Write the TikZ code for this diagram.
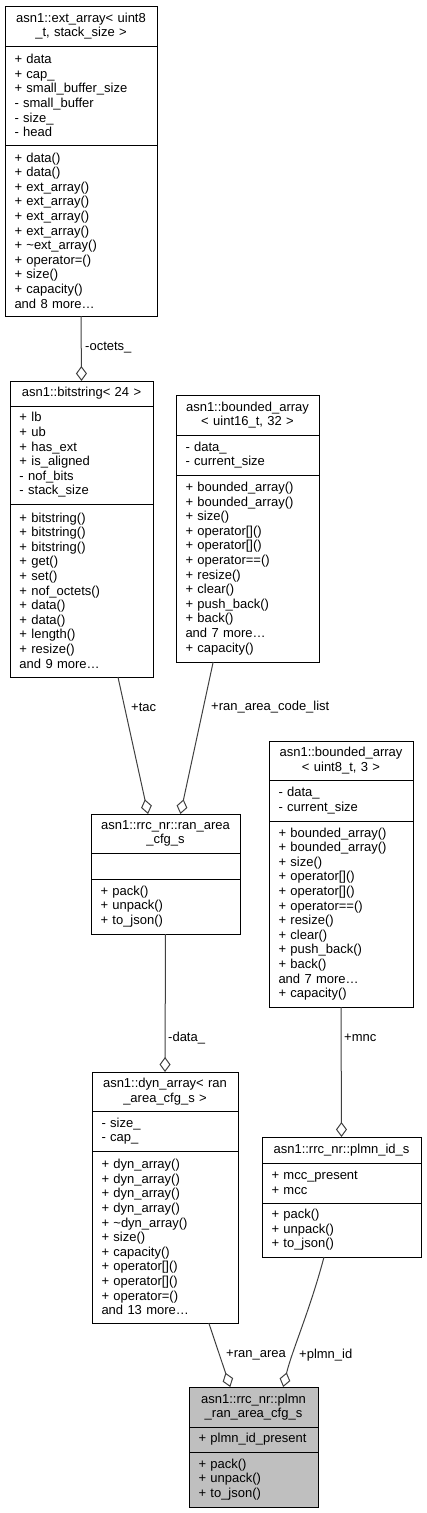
\documentclass[tikz,border=0pt]{standalone}
\usepackage{fontspec}
\setmainfont{Liberation Sans}
\usetikzlibrary{calc,arrows.meta}

\definecolor{edgegrey}{HTML}{404040}
\definecolor{curgrey}{HTML}{BFBFBF}

\tikzset{
  cls/.style={draw=black, line width=1pt, fill=white, outer sep=0pt, inner xsep=9.5pt, inner ysep=2pt,
    anchor=north west, font=\fontsize{13}{14.6}\selectfont},
  clshead/.style={cls, align=center},
  clsbody/.style={cls, align=left},
  aggr/.style={draw=edgegrey, line width=1pt, -{Diamond[open, length=15pt, width=11pt]}},
  lbl/.style={anchor=west, inner sep=0pt, font=\fontsize{13}{14.6}\selectfont},
}

\begin{document}
\begin{tikzpicture}[x=1pt,y=-1pt]

    \useasboundingbox (0,0) rectangle (426,1513);

    % ext_array< uint8_t, stack_size >
    \node[clshead, text width=133pt, minimum height=40pt] (extT) at (5,6) {asn1::ext\_array< uint8\\ \_t, stack\_size >};
    \node[clsbody, text width=133pt, minimum height=99pt] (extA) at (extT.south west)
        {+ data\\+ cap\_\\+ small\_buffer\_size\\- small\_buffer\\- size\_\\- head};
    \node[clsbody, text width=133pt, minimum height=171pt] (extM) at (extA.south west)
        {+ data()\\+ data()\\+ ext\_array()\\+ ext\_array()\\+ ext\_array()\\+ ext\_array()\\+ \textasciitilde{}ext\_array()\\+ operator=()\\+ size()\\+ capacity()\\and 8 more\ldots};

    % bitstring< 24 >
    \node[clshead, text width=124pt, minimum height=25pt] (bitT) at (10,381) {asn1::bitstring< 24 >};
    \node[clsbody, text width=124pt, minimum height=98pt] (bitA) at (bitT.south west)
        {+ lb\\+ ub\\+ has\_ext\\+ is\_aligned\\- nof\_bits\\- stack\_size};
    \node[clsbody, text width=124pt, minimum height=173pt] (bitM) at (bitA.south west)
        {+ bitstring()\\+ bitstring()\\+ bitstring()\\+ get()\\+ set()\\+ nof\_octets()\\+ data()\\+ data()\\+ length()\\+ resize()\\and 9 more\ldots};

    % bounded_array< uint16_t, 32 >
    \node[clshead, text width=124pt, minimum height=40pt] (b16T) at (176,395) {asn1::bounded\_array\\< uint16\_t, 32 >};
    \node[clsbody, text width=124pt, minimum height=40pt] (b16A) at (b16T.south west)
        {- data\_\\- current\_size};
    \node[clsbody, text width=124pt, minimum height=187pt] (b16M) at (b16A.south west)
        {+ bounded\_array()\\+ bounded\_array()\\+ size()\\+ operator[]()\\+ operator[]()\\+ operator==()\\+ resize()\\+ clear()\\+ push\_back()\\+ back()\\and 7 more\ldots\\+ capacity()};

    % rrc_nr::ran_area_cfg_s
    \node[clshead, text width=130pt, minimum height=39pt] (ranT) at (91,814) {asn1::rrc\_nr::ran\_area\\ \_cfg\_s};
    \node[clsbody, text width=130pt, minimum height=26pt] (ranA) at (ranT.south west) {};
    \node[clsbody, text width=130pt, minimum height=55pt] (ranM) at (ranA.south west)
        {+ pack()\\+ unpack()\\+ to\_json()};

    % bounded_array< uint8_t, 3 >
    \node[clshead, text width=125pt, minimum height=39pt] (b8T) at (269,741) {asn1::bounded\_array\\< uint8\_t, 3 >};
    \node[clsbody, text width=125pt, minimum height=41pt] (b8A) at (b8T.south west)
        {- data\_\\- current\_size};
    \node[clsbody, text width=125pt, minimum height=186pt] (b8M) at (b8A.south west)
        {+ bounded\_array()\\+ bounded\_array()\\+ size()\\+ operator[]()\\+ operator[]()\\+ operator==()\\+ resize()\\+ clear()\\+ push\_back()\\+ back()\\and 7 more\ldots\\+ capacity()};

    % dyn_array< ran_area_cfg_s >
    \node[clshead, text width=127pt, minimum height=39pt] (dynT) at (92,1072) {asn1::dyn\_array< ran\\ \_area\_cfg\_s >};
    \node[clsbody, text width=127pt, minimum height=40pt] (dynA) at (dynT.south west)
        {- size\_\\- cap\_};
    \node[clsbody, text width=127pt, minimum height=172pt] (dynM) at (dynA.south west)
        {+ dyn\_array()\\+ dyn\_array()\\+ dyn\_array()\\+ dyn\_array()\\+ \textasciitilde{}dyn\_array()\\+ size()\\+ capacity()\\+ operator[]()\\+ operator[]()\\+ operator=()\\and 13 more\ldots};

    % rrc_nr::plmn_id_s
    \node[clshead, text width=140pt, minimum height=26pt] (pidT) at (262,1137) {asn1::rrc\_nr::plmn\_id\_s};
    \node[clsbody, text width=140pt, minimum height=40pt] (pidA) at (pidT.south west)
        {+ mcc\_present\\+ mcc};
    \node[clsbody, text width=140pt, minimum height=54pt] (pidM) at (pidA.south west)
        {+ pack()\\+ unpack()\\+ to\_json()};

    % rrc_nr::plmn_ran_area_cfg_s (the documented class)
    \node[clshead, fill=curgrey, text width=110pt, minimum height=40pt] (praT) at (189,1387) {asn1::rrc\_nr::plmn\\ \_ran\_area\_cfg\_s};
    \node[clsbody, fill=curgrey, text width=110pt, minimum height=25pt] (praA) at (praT.south west)
        {+ plmn\_id\_present};
    \node[clsbody, fill=curgrey, text width=110pt, minimum height=55pt] (praM) at (praA.south west)
        {+ pack()\\+ unpack()\\+ to\_json()};

    % Aggregation edges
    \draw[aggr] (extM.south) -- (bitT.north);
    \draw[aggr] ($(bitM.south west)!0.755!(bitM.south east)$) -- ($(ranT.north west)!0.383!(ranT.north east)$);
    \draw[aggr] ($(b16M.south west)!0.26!(b16M.south east)$) -- ($(ranT.north west)!0.6!(ranT.north east)$);
    \draw[aggr] (ranM.south) -- (dynT.north);
    \draw[aggr] (b8M.south) -- (pidT.north);
    \draw[aggr] ($(dynM.south west)!0.8!(dynM.south east)$) -- ($(praT.north west)!0.32!(praT.north east)$);
    \draw[aggr] ($(pidM.south west)!0.39!(pidM.south east)$) .. controls +(-14,53) and +(9,-37) .. ($(praT.north west)!0.73!(praT.north east)$);

    % Edge labels
    \node[lbl] (octetsL) at (85,348) {-octets\_};
    \node[lbl] (tacL) at (131,707) {+tac};
    \node[lbl] (codeL) at (211,707) {+ran\_area\_code\_list};
    \node[lbl] (dataL) at (168,1038) {-data\_};
    \node[lbl] (mncL) at (344,1038) {+mnc};
    \node[lbl] (areaL) at (226,1355) {+ran\_area};
    \node[lbl] (plmnL) at (299,1355) {+plmn\_id};

\end{tikzpicture}
\end{document}
